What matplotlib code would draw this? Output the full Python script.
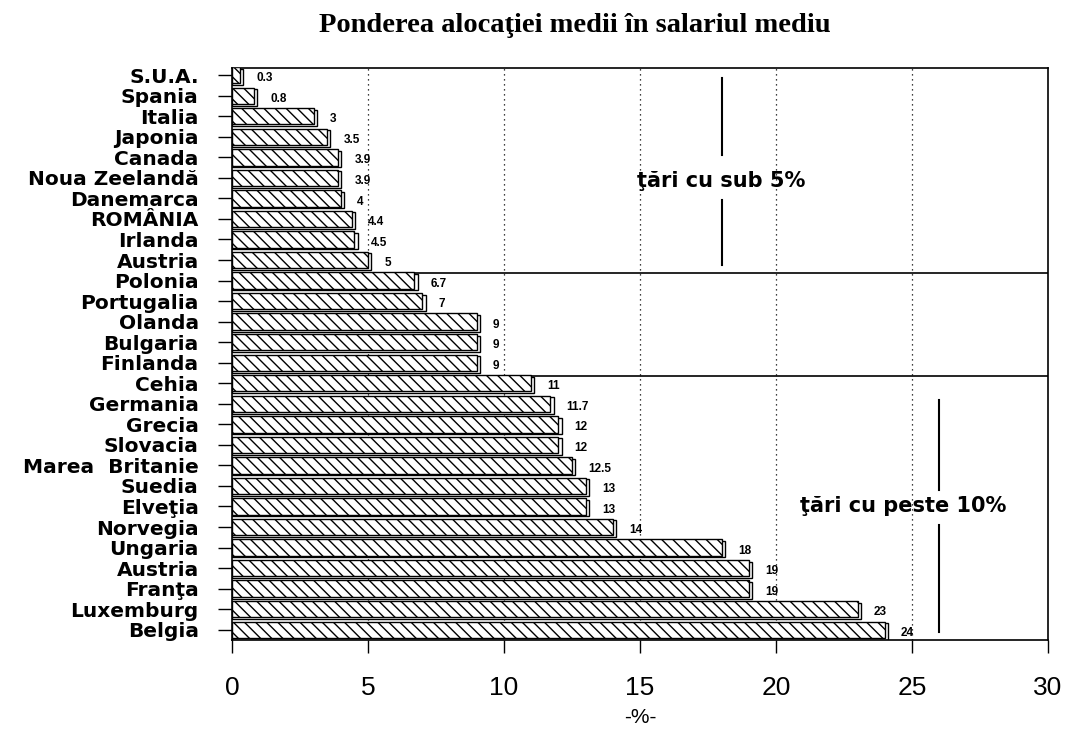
import matplotlib
matplotlib.use("Agg")
import matplotlib.pyplot as plt
import numpy as np

plt.rcParams['hatch.linewidth'] = 1.0

countries = ["S.U.A.", "Spania", "Italia", "Japonia", "Canada", "Noua Zeelandă",
             "Danemarca", "ROMÂNIA", "Irlanda", "Austria", "Polonia", "Portugalia",
             "Olanda", "Bulgaria", "Finlanda", "Cehia", "Germania", "Grecia",
             "Slovacia", "Marea  Britanie", "Suedia", "Elveţia", "Norvegia", "Ungaria",
             "Austria", "Franţa", "Luxemburg", "Belgia"]
values = [0.3, 0.8, 3, 3.5, 3.9, 3.9, 4, 4.4, 4.5, 5, 6.7, 7, 9, 9, 9, 11, 11.7,
          12, 12, 12.5, 13, 13, 14, 18, 19, 19, 23, 24]
value_labels = ["0.3", "0.8", "3", "3.5", "3.9", "3.9", "4", "4.4", "4.5", "5", "6.7",
                "7", "9", "9", "9", "11", "11.7", "12", "12", "12.5", "13", "13", "14",
                "18", "19", "19", "23", "24"]
xticks = [0, 5, 10, 15, 20, 25, 30]

fig = plt.figure(figsize=(10.69, 7.30), dpi=100)
ax = fig.add_axes([232/1069, 1 - 640/730, (1048-232)/1069, (640-68)/730])

n = len(countries)
y = np.arange(n)
h = 0.8

# shadow bars
ax.barh(y + 0.08, np.array(values) + 0.12, height=h, left=0, color='white',
        edgecolor='black', linewidth=1.0, zorder=2)
# main hatched bars
ax.barh(y, values, height=h, color='white', edgecolor='black', hatch='\\\\\\',
        linewidth=1.0, zorder=3)

for yi, v, lab in zip(y, values, value_labels):
    ax.text(v + 0.6, yi + 0.15, lab, fontsize=8.5, fontweight='bold',
            family='Liberation Sans', va='center', ha='left', zorder=4)

ax.set_xlim(0, 30)
ax.set_ylim(27.5, -0.35)

# dotted gridlines
for gx in [5, 10, 15, 20, 25]:
    ax.axvline(gx, color='black', linestyle=(0, (1, 3)), linewidth=0.9, zorder=1)

# group separators
ax.axhline(9.65, color='black', linewidth=1.2, zorder=1)
ax.axhline(14.65, color='black', linewidth=1.2, zorder=1)

ax.set_yticks(y)
ax.set_yticklabels(countries, fontsize=14.5, fontweight='bold', family='DejaVu Sans')
ax.set_xticks(xticks)
ax.set_xticklabels([str(t) for t in xticks], fontsize=19, family='Liberation Sans')
ax.tick_params(axis='x', direction='out', length=9, width=1.0, pad=17)
ax.tick_params(axis='y', direction='out', length=10, width=1.0, pad=14)
for s in ax.spines.values():
    s.set_linewidth(1.2)

ax.set_xlabel("-%-", fontsize=15, family='Liberation Sans', labelpad=6)

# annotations
ax.text(14.9, 5.15, "ţări cu sub 5%", fontsize=15, fontweight='bold',
        family='DejaVu Sans', va='center', ha='left', zorder=5)
ax.plot([18.0, 18.0], [0.14, 3.9], color='black', linewidth=1.5)
ax.plot([18.0, 18.0], [6.1, 9.25], color='black', linewidth=1.5)

ax.text(20.9, 21.0, "ţări cu peste 10%", fontsize=15, fontweight='bold',
        family='DejaVu Sans', va='center', ha='left', zorder=5)
ax.plot([26.0, 26.0], [15.8, 20.2], color='black', linewidth=1.5)
ax.plot([26.0, 26.0], [21.9, 27.1], color='black', linewidth=1.5)

fig.text(575/1069, 1 - 26/730, "Ponderea alocaţiei medii în salariul mediu",
         fontsize=20.5, fontweight='bold', family='Liberation Serif', ha='center', va='center')

fig.savefig("out.png", dpi=100, facecolor='white')
